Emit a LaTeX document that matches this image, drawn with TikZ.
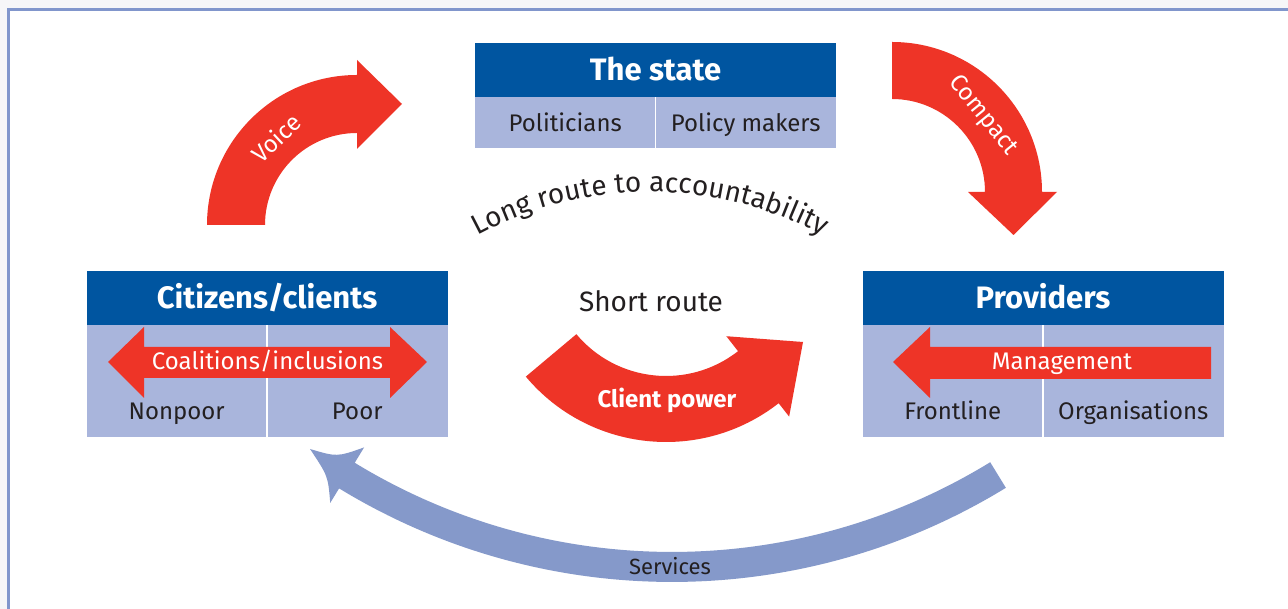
\documentclass[tikz,border=0pt]{standalone}
\usepackage{fontspec}
\setmainfont{Fira Sans}
\usetikzlibrary{positioning,decorations.text}

\definecolor{stateblue}{HTML}{0055A0}
\definecolor{cellblue}{HTML}{A9B5DC}
\definecolor{arrowred}{HTML}{EE3427}
\definecolor{svcblue}{HTML}{8599CA}
\definecolor{framecol}{HTML}{8196CC}
\definecolor{outercol}{HTML}{F6F6F8}
\definecolor{txt}{HTML}{231F20}
\newcommand{\hdfont}{\fontsize{31}{37}\selectfont\bfseries}
\newcommand{\cellfont}{\fontsize{24}{29}\selectfont}
\newcommand{\routefont}{\fontsize{28}{34}\selectfont}

\begin{document}
\begin{tikzpicture}[x=1pt,y=1pt,
  hd/.style={fill=stateblue,text=white,font=\hdfont,minimum width=361,minimum height=54,
    inner sep=0pt,text height=21,text depth=0pt},
  cell/.style={fill=cellblue,text=txt,font=\cellfont,minimum width=180.5,minimum height=51,
    inner sep=0pt,text height=17,text depth=0pt},
  tall/.style={cell,minimum height=112},
  lab/.style={font=\cellfont,text=txt,inner sep=0pt},
  wlab/.style={font=\cellfont,text=white,inner sep=0pt},
  divide/.style={draw=white,line width=1.5pt},
  blk/.style={fill=arrowred},
  svc/.style={fill=svcblue}]
  \useasboundingbox (0,0) rectangle (1288,609);
  % page frame
  \fill[outercol] (0,0) rectangle (1288,609);
  \fill[white] (8.5,0) rectangle (1288,599.5);
  \draw[framecol,line width=2.7pt] (8.5,0) -- (8.5,599.5) -- (1288,599.5);

  % the three boxes
  \node[hd] (state) at (655.5,539) {The state};
  \node[cell,anchor=north west] (pol) at (state.south west) {Politicians};
  \node[cell,anchor=north east] (polmk) at (state.south east) {Policy makers};
  \draw[divide] (pol.north east) -- (pol.south east);

  \node[hd] (cit) at (267,311) {Citizens/clients};
  \node[tall,anchor=north west] (nonpoor) at (cit.south west) {};
  \node[tall,anchor=north east] (poor) at (cit.south east) {};
  \draw[divide] (nonpoor.north east) -- (nonpoor.south east);
  \node[lab,anchor=base] (nonpoorlab) at ([yshift=18]nonpoor.south) {Nonpoor};
  \node[lab,anchor=base] (poorlab) at ([yshift=18]poor.south) {Poor};

  \node[hd] (prov) at (1043,311) {Providers};
  \node[tall,anchor=north west] (front) at (prov.south west) {};
  \node[tall,anchor=north east] (org) at (prov.south east) {};
  \draw[divide] (front.north east) -- (front.south east);
  \node[lab,anchor=base] (frontlab) at ([yshift=18]front.south) {Frontline};
  \node[lab,anchor=base] (orglab) at ([yshift=18]org.south) {Organisations};

  % flat arrows inside the boxes
  \fill[blk] (108,247) -- (144,282) -- (144,262) -- (390,262) -- (390,282) -- (427,247)
    -- (390,211) -- (390,231) -- (144,231) -- (144,211) -- cycle;
  \node[wlab,anchor=base] (coal) at (267.5,239) {Coalitions/inclusions};
  \fill[blk] (893,247) -- (930,282) -- (930,262) -- (1211,262) -- (1211,230)
    -- (930,230) -- (930,211) -- cycle;
  \node[wlab,anchor=base] (mgmt) at (1062,239) {Management};

  % curved arrows
  \coordinate (vc) at (357,384);
  \fill[blk] ([shift={(180:150)}]vc) arc[start angle=180,end angle=90,radius=150]
    -- ([shift={(90:165)}]vc) -- (402,505) -- ([shift={(90:76)}]vc)
    -- ([shift={(90:92)}]vc) arc[start angle=90,end angle=180,radius=92] -- cycle;
  \node[wlab,rotate=43] (voice) at ([shift={(133:119)}]vc) {Voice};

  \coordinate (cc) at (892,417);
  \fill[blk] ([shift={(90:150)}]cc) arc[start angle=90,end angle=0,radius=150]
    -- ([shift={(0:165)}]cc) -- (1013.5,374) -- ([shift={(0:76)}]cc)
    -- ([shift={(0:93)}]cc) arc[start angle=0,end angle=90,radius=93] -- cycle;
  \node[wlab,rotate=-51] (compact) at ([shift={(40:119)}]cc) {Compact};

  \coordinate (pc) at (666,350);
  \fill[blk] ([shift={(220:183)}]pc) arc[start angle=220,end angle=308,radius=183]
    -- ([shift={(308:200)}]pc) -- (803,267) -- ([shift={(308:98)}]pc)
    -- ([shift={(308:117)}]pc) arc[start angle=308,end angle=220,radius=117] -- cycle;
  \node[wlab,font=\cellfont\bfseries,anchor=base] (client) at (667,201) {Client power};

  \coordinate (sc) at (672,666);
  \fill[svc] ([shift={(301.5:609)}]sc) arc[start angle=301.5,end angle=238.6,radius=609]
    -- ([shift={(238.6:591)}]sc) .. controls (337,152) .. (310,160)
    .. controls (328,133) .. ([shift={(238.6:656)}]sc)
    -- ([shift={(238.6:639)}]sc) arc[start angle=238.6,end angle=301.5,radius=639] -- cycle;
  \node[lab,font=\fontsize{22}{26}\selectfont,anchor=base] (services) at (670,34) {Services};

  % route captions
  \node[lab,font=\routefont,anchor=base] (short) at (651,297) {Short route};
  \coordinate (lc) at (650,53);
  \path[decorate,decoration={text along path,text align=center,text color=txt,
    text={|\routefont|Long route to accountability}}]
    ([shift={(151:364)}]lc) arc[start angle=151,end angle=29,radius=364];
\end{tikzpicture}
\end{document}
